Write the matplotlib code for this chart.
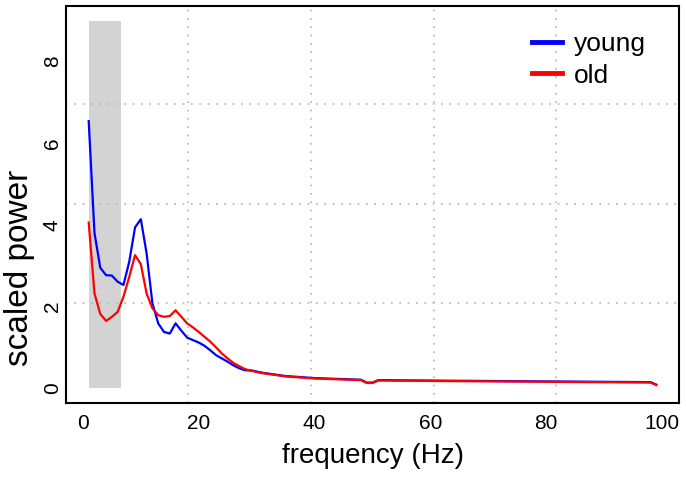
import matplotlib
matplotlib.use("Agg")
import matplotlib.pyplot as plt
import numpy as np

plt.rcParams['font.family'] = ['Liberation Sans', 'DejaVu Sans']

# frequency axis, 1..99 Hz
freq = list(range(1, 100))

young = [
    6.54, 3.80, 2.95, 2.77, 2.76, 2.61, 2.53, 3.10, 3.94, 4.14,
    3.30, 2.08, 1.59, 1.38, 1.34, 1.59, 1.41, 1.24, 1.18, 1.12,
    1.04, 0.93, 0.81, 0.73, 0.65, 0.56, 0.49, 0.44, 0.44, 0.41,
    0.38, 0.36, 0.34, 0.32, 0.30, 0.29, 0.28, 0.27, 0.26, 0.25,
    0.245, 0.24, 0.235, 0.23, 0.225, 0.22, 0.215, 0.21, 0.14, 0.14,
    0.20, 0.20, 0.198, 0.196, 0.195, 0.194, 0.193, 0.192, 0.191, 0.19,
    0.188, 0.187, 0.186, 0.185, 0.184, 0.183, 0.182, 0.181, 0.18, 0.179,
    0.178, 0.177, 0.176, 0.175, 0.174, 0.173, 0.172, 0.171, 0.17, 0.169,
    0.168, 0.167, 0.166, 0.165, 0.164, 0.163, 0.162, 0.161, 0.16, 0.159,
    0.158, 0.157, 0.156, 0.155, 0.154, 0.153, 0.152, 0.151, 0.09,
]

old = [
    4.06, 2.32, 1.82, 1.65, 1.75, 1.87, 2.24, 2.73, 3.26, 3.04,
    2.32, 1.96, 1.79, 1.75, 1.77, 1.91, 1.75, 1.59, 1.49, 1.38,
    1.26, 1.14, 1.00, 0.85, 0.73, 0.62, 0.54, 0.47, 0.43, 0.40,
    0.37, 0.35, 0.33, 0.31, 0.29, 0.28, 0.27, 0.26, 0.25, 0.24,
    0.235, 0.23, 0.225, 0.22, 0.215, 0.21, 0.205, 0.20, 0.13, 0.13,
    0.19, 0.19, 0.188, 0.186, 0.185, 0.184, 0.183, 0.182, 0.181, 0.18,
    0.178, 0.177, 0.176, 0.175, 0.174, 0.173, 0.172, 0.171, 0.17, 0.169,
    0.168, 0.167, 0.166, 0.165, 0.164, 0.163, 0.162, 0.161, 0.16, 0.159,
    0.158, 0.157, 0.156, 0.155, 0.154, 0.153, 0.152, 0.151, 0.15, 0.149,
    0.148, 0.147, 0.146, 0.145, 0.144, 0.143, 0.142, 0.141, 0.08,
]

band = (1, 6.5)      # shaded low-frequency band
band_top = 9
xticks = [0, 20, 40, 60, 80, 100]
yticks = [0, 2, 4, 6, 8]
# grid positions as they appear in the original (not aligned with ticks)
grid_x = [18.2, 39.4, 60.6, 81.6]
grid_y = [2.09, 4.51, 6.96]

fig = plt.figure(figsize=(6.86, 4.79), dpi=100)
ax = fig.add_axes([66 / 686, 1 - 403 / 479, 613 / 686, 397 / 479])

ax.fill_between(band, 0, band_top, color="#d3d3d3", lw=0, zorder=1)

for gx in grid_x:
    ax.axvline(gx, color="#b4b4b4", lw=1.2, ls=(0, (1, 4)), zorder=2)
for gy in grid_y:
    ax.axhline(gy, color="#b4b4b4", lw=1.2, ls=(0, (1, 4)), zorder=2)

ax.plot(freq, young, color="#0000ff", lw=1.6, label="young", zorder=3)
ax.plot(freq, old, color="#ff0000", lw=1.6, label="old", zorder=4)

ax.set_xlim(-2.92, 102.92)
ax.set_ylim(-0.36, 9.36)
ax.set_xticks(xticks)
ax.set_yticks(yticks)
ax.tick_params(length=0, labelsize=15)
ax.tick_params(axis="x", pad=8)
ax.tick_params(axis="y", pad=3)
for lab in ax.get_yticklabels():
    lab.set_rotation(90)
    lab.set_va("center")

for s in ax.spines.values():
    s.set_linewidth(1.5)
    s.set_color("black")

ax.set_xlabel("frequency (Hz)", fontsize=20, labelpad=7)
ax.set_ylabel("scaled power", fontsize=24)
ax.yaxis.set_label_coords(-0.05, 0.34)

leg = ax.legend(loc="upper left", bbox_to_anchor=(0.76, 0.935), frameon=False,
                fontsize=19, handlelength=1.15, handletextpad=0.45,
                labelspacing=0.3, borderpad=0, borderaxespad=0)
for h in leg.get_lines():
    h.set_linewidth(3.5)

fig.savefig("out.png", dpi=100)
